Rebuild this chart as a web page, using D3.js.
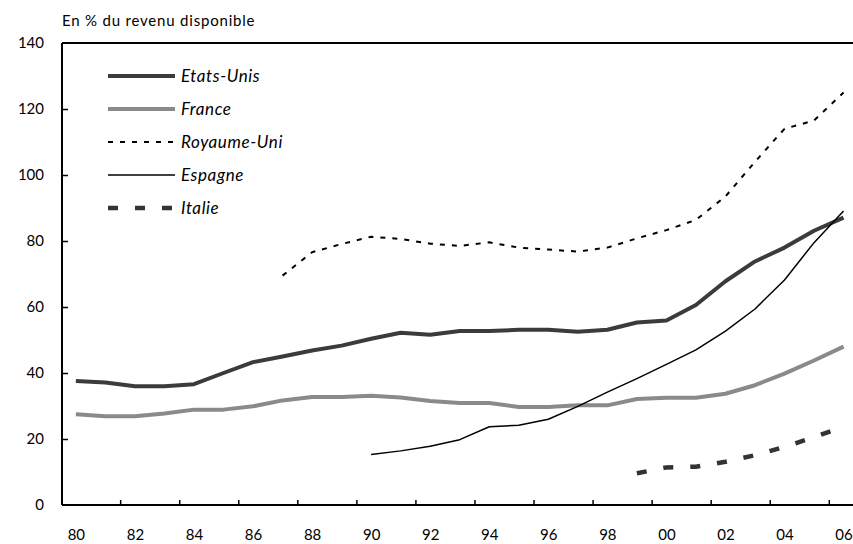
<!DOCTYPE html>
<html>
<head>
<meta charset="utf-8">
<script src="https://cdn.jsdelivr.net/npm/d3@7"></script>
<style>
  html, body { margin: 0; padding: 0; background: #fff; }
  svg { display: block; }
  text { font-family: Lato, "Open Sans", "DejaVu Sans", sans-serif; fill: #000; }
</style>
</head>
<body>
<svg id="chart" width="853" height="544"></svg>
<script>
// ---- Data ----
const years = d3.range(1980, 2007);
const etatsUnis = [37.6, 37.1, 36.0, 36.0, 36.6, 40.0, 43.3, 45.0, 46.8, 48.3, 50.4, 52.2, 51.6, 52.7, 52.7, 53.1, 53.1, 52.5, 53.1, 55.3, 55.9, 60.6, 67.8, 73.8, 78.0, 83.1, 87.1];
const france    = [27.5, 26.9, 26.9, 27.7, 28.9, 28.9, 29.9, 31.7, 32.7, 32.7, 33.1, 32.6, 31.5, 30.9, 30.9, 29.7, 29.7, 30.2, 30.2, 32.1, 32.5, 32.5, 33.7, 36.3, 39.8, 43.8, 48.0];
const royaumeUni = [null, null, null, null, null, null, null, 69.5, 76.6, 79.1, 81.3, 80.6, 79.2, 78.5, 79.6, 78.0, 77.4, 76.8, 78.0, 80.8, 83.3, 86.4, 93.5, 104, 114, 116.5, 125];
const espagne   = [null, null, null, null, null, null, null, null, null, null, 15.3, 16.4, 17.8, 19.8, 23.7, 24.2, 26.0, 29.9, 34.2, 38.3, 42.6, 47.0, 52.7, 59.4, 68.2, 79.5, 89.1];
const italie    = [null, null, null, null, null, null, null, null, null, null, null, null, null, null, null, null, null, null, null, 9.6, 11.4, 11.6, 13.1, 15.1, 17.6, 20.6, 23.7];
const seriesNames = ["Etats-Unis", "France", "Royaume-Uni", "Espagne", "Italie"];
const yTicks = [0, 20, 40, 60, 80, 100, 120, 140];
const xLabelYears = d3.range(1980, 2007, 2);
const unitLabel = "En % du revenu disponible";

// ---- Styles ----
const styles = {
  "Etats-Unis": { stroke: "#3b3b3b", width: 4, dash: null },
  "France":     { stroke: "#8a8a8a", width: 4, dash: null },
  "Royaume-Uni":{ stroke: "#000",    width: 2, dash: "5,7" },
  "Espagne":    { stroke: "#000",    width: 1.5, dash: null },
  "Italie":     { stroke: "#333",    width: 4.5, dash: "10,17" }
};
const seriesValues = [etatsUnis, france, royaumeUni, espagne, italie];

const svg = d3.select("#chart");
const plotLeft = 62, plotRight = 853, plotTop = 43, plotBottom = 505;

const x = d3.scaleLinear().domain([1979.53, 2006.32]).range([plotLeft, plotRight]);
const y = d3.scaleLinear().domain([0, 140]).range([plotBottom, plotTop]);

// Title
svg.append("text").attr("x", 62).attr("y", 26)
  .style("font-size", "15px").style("letter-spacing", "0.8px").text(unitLabel);

// Top border
svg.append("line").attr("x1", plotLeft).attr("x2", plotRight).attr("y1", y(140)).attr("y2", y(140))
  .attr("stroke", "#000").attr("stroke-width", 2);

// Y axis
const yAxis = svg.append("g").attr("transform", `translate(${plotLeft},0)`)
  .call(d3.axisLeft(y).tickValues(yTicks).tickSize(-6).tickPadding(18).tickFormat(d3.format("d")));
yAxis.select(".domain").attr("stroke-width", 2).attr("d", `M0,${plotBottom}V${plotTop}`);
yAxis.selectAll(".tick line").attr("stroke-width", 1.5);
yAxis.selectAll(".tick text").style("font-size", "15px").style("font-family", "Lato, sans-serif");
yAxis.selectAll(".tick").filter(d => d === 0 || d === 140).select("line").remove();

// X axis: labels
const xAxisLabels = svg.append("g").attr("transform", `translate(0,${plotBottom})`)
  .call(d3.axisBottom(x).tickValues(xLabelYears).tickSize(0).tickPadding(24)
    .tickFormat(d => String(d % 100).padStart(2, "0")));
xAxisLabels.select(".domain").attr("stroke-width", 2).attr("d", `M${plotLeft},0H${plotRight}`);
xAxisLabels.selectAll(".tick text").style("font-size", "15px").style("font-family", "Lato, sans-serif");

// X axis: tick marks between labels
const tickYears = d3.range(1981.5, 2006, 2);
const xAxisTicks = svg.append("g").attr("transform", `translate(0,${plotBottom})`)
  .call(d3.axisBottom(x).tickValues(tickYears).tickSize(-5).tickFormat(""));
xAxisTicks.select(".domain").remove();
xAxisTicks.selectAll(".tick line").attr("stroke-width", 1.5);

// Lines
const line = d3.line()
  .defined(d => d.v !== null)
  .x(d => x(d.year))
  .y(d => y(d.v));

seriesNames.forEach((name, i) => {
  const data = years.map((yr, j) => ({ year: yr, v: seriesValues[i][j] }));
  const st = styles[name];
  svg.append("path").datum(data)
    .attr("fill", "none")
    .attr("stroke", st.stroke)
    .attr("stroke-width", st.width)
    .attr("stroke-dasharray", st.dash)
    .attr("stroke-linejoin", "round")
    .attr("d", line);
});

// Legend
const legendY0 = 76, legendStep = 33;
seriesNames.forEach((name, i) => {
  const st = styles[name];
  const ly = legendY0 + i * legendStep;
  svg.append("line").attr("x1", 108).attr("x2", 175).attr("y1", ly).attr("y2", ly)
    .attr("stroke", st.stroke).attr("stroke-width", st.width)
    .attr("stroke-dasharray", st.dash);
  svg.append("text").attr("x", 181).attr("y", ly).attr("dy", "0.35em")
    .style("font-size", "17px").style("font-style", "italic").style("letter-spacing", "0.6px").text(name);
});
</script>
</body>
</html>
